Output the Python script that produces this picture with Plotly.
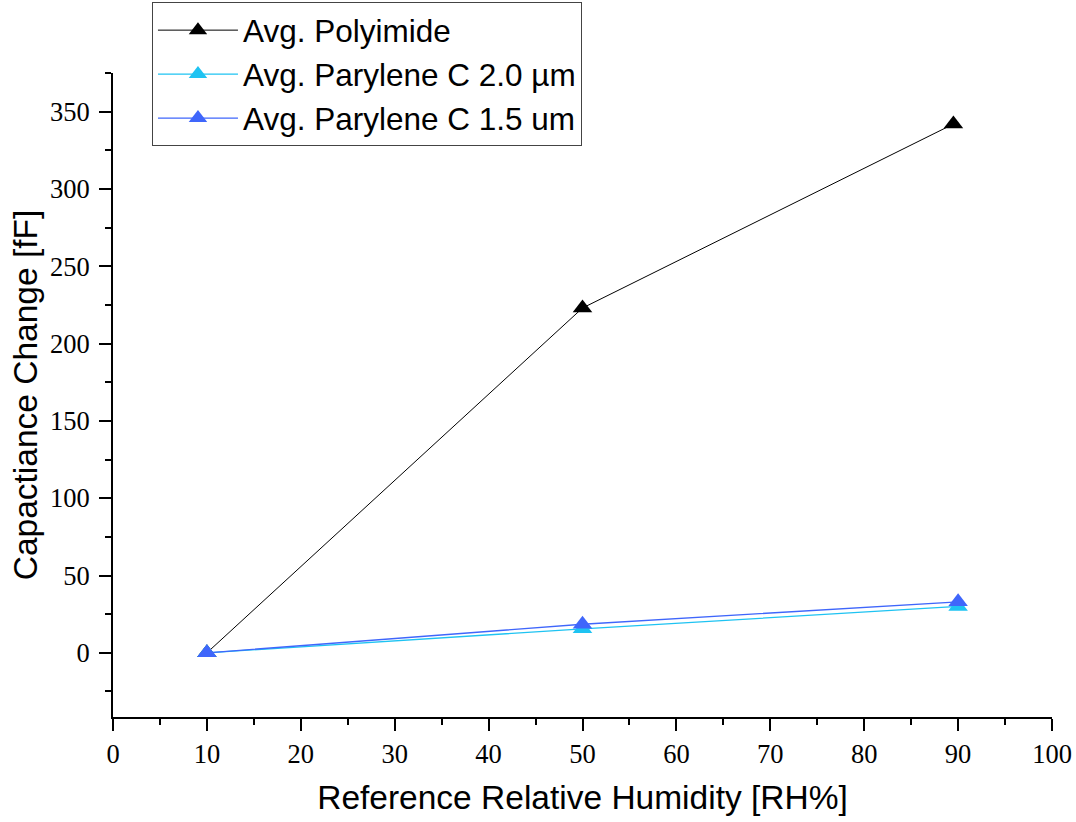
import plotly.graph_objects as go

rh = [10, 50, 89.5]
rh_pc = [10, 50, 90]
polyimide = [0, 223, 342]
parylene_20 = [0, 15.5, 30]
parylene_15 = [0, 18.5, 33]

names = ["Avg. Polyimide", "Avg. Parylene C 2.0 µm", "Avg. Parylene C 1.5 um"]
colors = ["#000000", "#1ec3f2", "#3f66fb"]

fig = go.Figure()
for x, y, n, c, w in [(rh, polyimide, names[0], colors[0], 1),
                      (rh_pc, parylene_20, names[1], colors[1], 1.3),
                      (rh_pc, parylene_15, names[2], colors[2], 1.3)]:
    fig.add_trace(go.Scatter(x=x, y=y, name=n, mode="lines+markers",
                             line=dict(color=c, width=w),
                             marker=dict(symbol="triangle-up", size=17, color=c)))

serif = "Liberation Serif, Times New Roman, Times, serif"
sans = "Liberation Sans, Arial, Helvetica, sans-serif"

for upd, rng, dt, mdt, title, standoff, tls in [
        (fig.update_xaxes, [0, 100], 10, 5, "Reference Relative Humidity [RH%]", 18, 0),
        (fig.update_yaxes, [-41.5, 375], 50, 25, "Capactiance Change [fF]", 2, 4)]:
    upd(range=rng, tickmode="linear", tick0=0, dtick=dt,
        showline=True, linecolor="black", linewidth=2, showgrid=False,
        zeroline=False, ticks="outside", ticklen=12, tickwidth=2,
        tickcolor="black", automargin=False, ticklabelstandoff=tls,
        tickfont=dict(family=serif, size=26.5, color="black"),
        minor=dict(ticks="outside", ticklen=6, tickwidth=2, tickcolor="black",
                   dtick=mdt, tick0=0, showgrid=False),
        title=dict(text=title, standoff=standoff,
                   font=dict(family=sans, size=33.5, color="black")))

fig.update_layout(
    width=1076, height=822,
    margin=dict(l=113, r=24, t=73, b=105, autoexpand=False),
    plot_bgcolor="white", paper_bgcolor="white",
    legend=dict(x=0.0415, y=1.11, xanchor="left", yanchor="top",
                bordercolor="#444", borderwidth=1, bgcolor="white",
                font=dict(family=sans, size=31.5, color="black"),
                tracegroupgap=0, itemwidth=80),
    showlegend=True,
)

fig.write_html("out.html", config={"displayModeBar": False},
               post_script="document.body.style.margin='0';")
